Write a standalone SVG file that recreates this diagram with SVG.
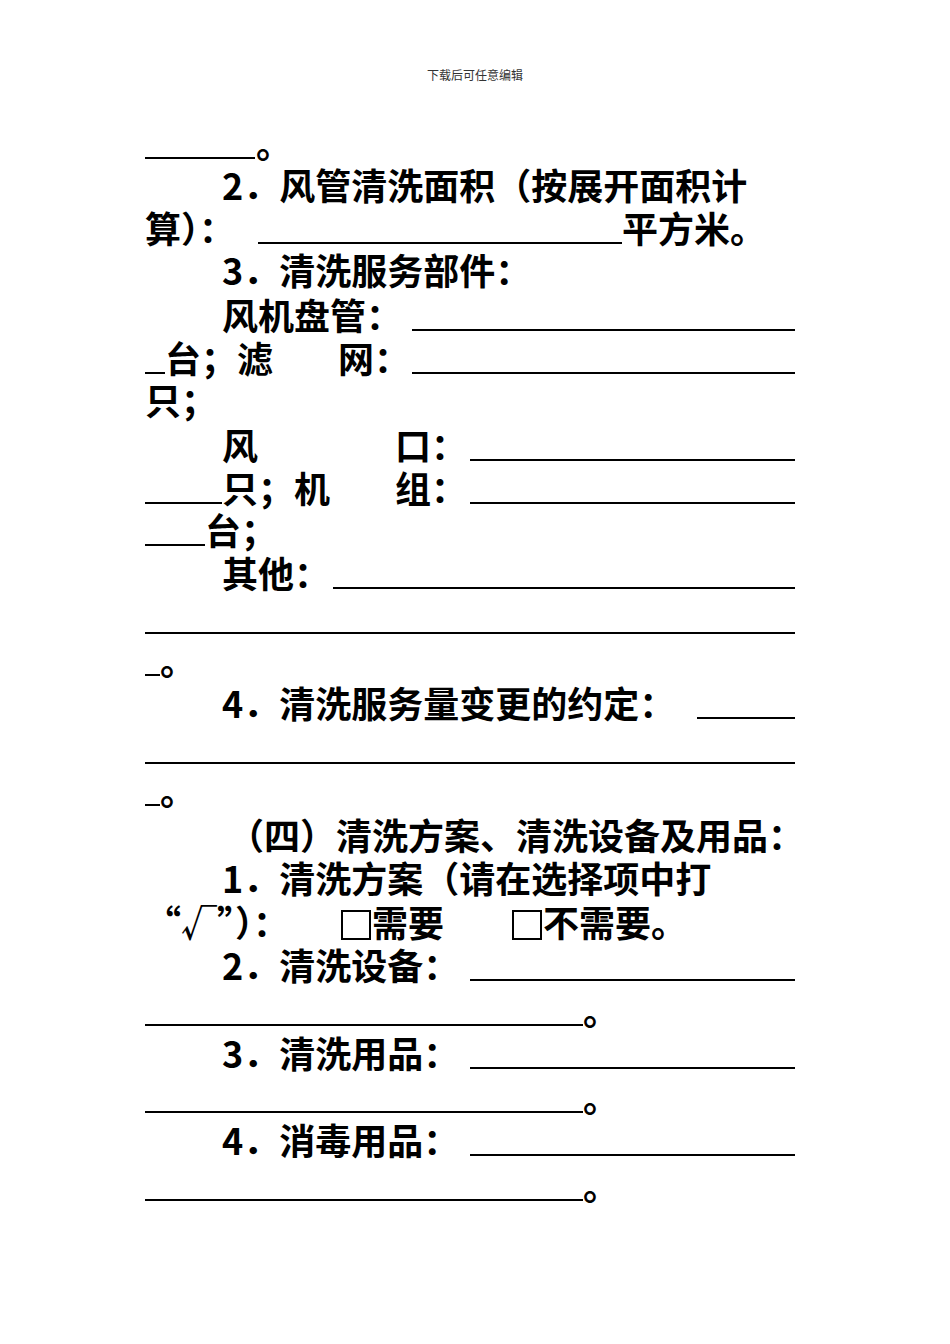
<svg xmlns="http://www.w3.org/2000/svg" width="950" height="1344" viewBox="0 0 950 1344">
<style>
text{font-family:"Noto Sans CJK SC","Liberation Serif",serif;font-size:36px;fill:#000;font-weight:bold}
.h{font-size:12px;fill:#333;font-weight:normal}
line{stroke:#000;stroke-width:2}
</style>
<rect width="950" height="1344" fill="#fff"/>
<text class="h" x="475" y="80" text-anchor="middle">下载后可任意编辑</text>
<line x1="145" y1="158" x2="255" y2="158"/><text x="256" y="158">。</text>
<text x="222" y="200">2．风管清洗面积（按展开面积计</text>
<text x="145" y="243">算）：</text><line x1="258" y1="243" x2="622" y2="243"/><text x="622" y="243">平方米。</text>
<text x="222" y="285">3．清洗服务部件：</text>
<text x="222" y="330">风机盘管：</text><line x1="412" y1="330" x2="795" y2="330"/>
<line x1="145" y1="373" x2="165" y2="373"/><text x="165" y="373">台；滤</text><text x="338" y="373">网：</text><line x1="412" y1="373" x2="795" y2="373"/>
<text x="145" y="415">只；</text>
<text x="222" y="460">风</text><text x="395" y="460">口：</text><line x1="470" y1="460" x2="795" y2="460"/>
<line x1="145" y1="503" x2="222" y2="503"/><text x="222" y="503">只；机</text><text x="395" y="503">组：</text><line x1="470" y1="503" x2="795" y2="503"/>
<line x1="145" y1="545" x2="205" y2="545"/><text x="205" y="545">台；</text>
<text x="222" y="588">其他：</text><line x1="333" y1="588" x2="795" y2="588"/>
<line x1="145" y1="633" x2="795" y2="633"/>
<line x1="145" y1="675" x2="160" y2="675"/><text x="160" y="675">。</text>
<text x="222" y="718">4．清洗服务量变更的约定：</text><line x1="697" y1="718" x2="795" y2="718"/>
<line x1="145" y1="763" x2="795" y2="763"/>
<line x1="145" y1="805" x2="160" y2="805"/><text x="160" y="805">。</text>
<text x="228" y="850">（四）清洗方案、清洗设备及用品：</text>
<text x="222" y="893">1．清洗方案（请在选择项中打</text>
<text x="145" y="937">“√”）：</text>
<rect x="342" y="911" width="28" height="28" fill="none" stroke="#000" stroke-width="2"/>
<text x="372" y="937">需要</text>
<rect x="513" y="911" width="28" height="28" fill="none" stroke="#000" stroke-width="2"/>
<text x="543" y="937">不需要。</text>
<text x="222" y="980">2．清洗设备：</text><line x1="470" y1="980" x2="795" y2="980"/>
<line x1="145" y1="1025" x2="583" y2="1025"/><text x="583" y="1025">。</text>
<text x="222" y="1068">3．清洗用品：</text><line x1="470" y1="1068" x2="795" y2="1068"/>
<line x1="145" y1="1112" x2="583" y2="1112"/><text x="583" y="1112">。</text>
<text x="222" y="1155">4．消毒用品：</text><line x1="470" y1="1155" x2="795" y2="1155"/>
<line x1="145" y1="1200" x2="583" y2="1200"/><text x="583" y="1200">。</text>
</svg>
